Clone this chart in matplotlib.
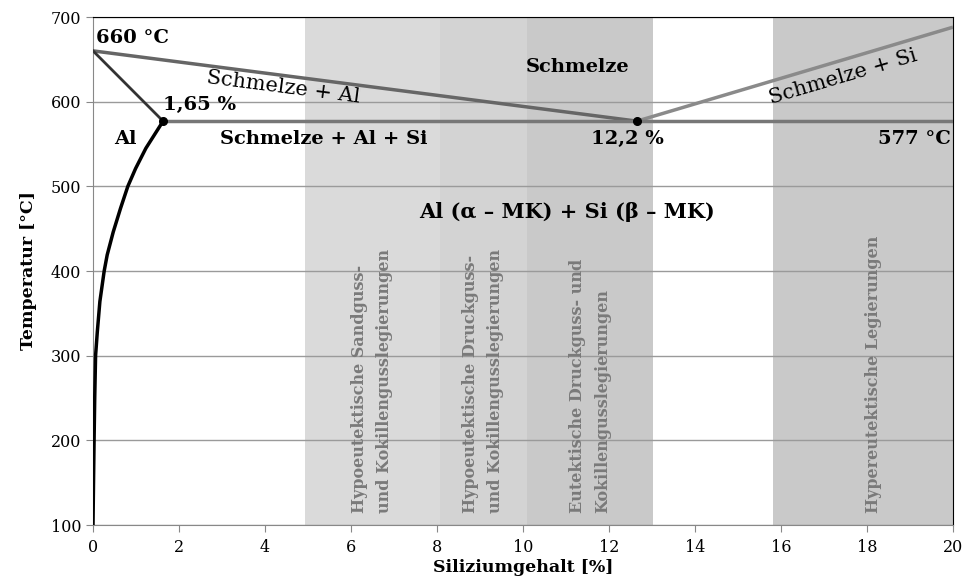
import matplotlib
matplotlib.use("Agg")
import matplotlib.pyplot as plt

# ---- data ----
T_melt_al = 660
T_eut = 577
x_eut = 12.65
x_solid_max = 1.63
x_right = 20
T_right = 688

liq_left_x = [0, x_eut]
liq_left_T = [T_melt_al, T_eut]
liq_right_x = [x_eut, x_right]
liq_right_T = [T_eut, T_right]
solidus_x = [0, x_solid_max]
solidus_T = [T_melt_al, T_eut]
eut_x = [x_solid_max, x_right]
eut_T = [T_eut, T_eut]
solvus_x = [1.63, 1.23, 0.99, 0.81, 0.64, 0.47, 0.33, 0.26, 0.16, 0.10, 0.06, 0.04, 0.025, 0.012, 0.0]
solvus_T = [577, 545, 521, 500, 474, 446, 419, 400, 364, 328, 300, 250, 200, 150, 100]

bands = [(4.93, 8.07), (8.07, 10.09), (10.09, 13.02), (15.81, 20.0)]
band_colors = ["#dadada", "#d3d3d3", "#c9c9c9", "#c9c9c9"]
band_labels = ["Hypoeutektische Sandguss-\nund Kokillengusslegierungen",
               "Hypoeutektische Druckguss-\nund Kokillengusslegierungen",
               "Eutektische Druckguss- und\nKokillengusslegierungen",
               "Hypereutektische Legierungen"]
band_label_x = [6.49, 9.07, 11.56, 18.14]

xticks = list(range(0, 21, 2))
yticks = list(range(100, 701, 100))

plt.rcParams['font.family'] = ['DejaVu Serif']

fig = plt.figure(figsize=(9.67, 5.88), dpi=100)
ax = fig.add_axes([93/967, 1-525/588, 860/967, 508/588])
ax.set_xlim(0, 20)
ax.set_ylim(100, 700)

for (a, b), c in zip(bands, band_colors):
    ax.axvspan(a, b, color=c, zorder=0.2, lw=0)

ax.set_axisbelow(True)
ax.yaxis.grid(True, color="#9a9a9a", lw=1)
ax.xaxis.grid(False)

for lab, xl in zip(band_labels, band_label_x):
    ax.text(xl, 114, lab, rotation=90, ha="center", va="bottom",
            multialignment="left", color="#7a7a7a", fontsize=11.5,
            fontweight="bold", linespacing=1.6, zorder=2)

ax.plot(liq_left_x, liq_left_T, color="#666666", lw=2.5, zorder=3, solid_capstyle="butt")
ax.plot(liq_right_x, liq_right_T, color="#8a8a8a", lw=2.5, zorder=3, solid_capstyle="butt")
ax.plot(eut_x, eut_T, color="#777777", lw=2.5, zorder=3, solid_capstyle="butt")
ax.plot(solidus_x, solidus_T, color="#333333", lw=2, zorder=3)
ax.plot(solvus_x, solvus_T, color="black", lw=2.5, zorder=4, solid_joinstyle="round")
ax.plot([x_solid_max, x_eut], [T_eut, T_eut], "o", color="black", ms=5.5, zorder=5)

bold = dict(fontweight="bold", fontsize=14, color="black", zorder=6)
ax.text(0.08, 665, "660 °C", ha="left", va="bottom", **bold)
ax.text(1.63, 585, "1,65 %", ha="left", va="bottom", **bold)
ax.text(0.75, 556, "Al", ha="center", va="center", **bold)
ax.text(5.36, 556, "Schmelze + Al + Si", ha="center", va="center", **bold)
ax.text(12.42, 556, "12,2 %", ha="center", va="center", **bold)
ax.text(19.95, 556, "577 °C", ha="right", va="center", **bold)
ax.text(11.26, 641, "Schmelze", ha="center", va="center", **bold)
ax.text(11.02, 470, "Al (α – MK) + Si (β – MK)", ha="center", va="center",
        fontweight="bold", fontsize=15, zorder=6)
ax.text(4.42, 617, "Schmelze + Al", ha="center", va="center", rotation=-7.3,
        fontsize=15, zorder=6, rotation_mode="anchor")
ax.text(17.44, 629, "Schmelze + Si", ha="center", va="center", rotation=16.5,
        fontsize=15, zorder=6, rotation_mode="anchor")

ax.set_xticks(xticks)
ax.set_yticks(yticks)
ax.tick_params(axis="both", labelsize=11.5, color="#888888", length=5, direction="out")
ax.tick_params(axis="x", pad=5)
ax.set_xlabel("Siliziumgehalt [%]", fontsize=12.5, fontweight="bold", labelpad=2)
ax.set_ylabel("Temperatur [°C]", fontsize=12.5, fontweight="bold", labelpad=10)

ax.spines["left"].set_color("#888888")
ax.spines["bottom"].set_color("#888888")
ax.spines["top"].set_color("black")
ax.spines["right"].set_color("black")

fig.savefig("out.png", dpi=100)
